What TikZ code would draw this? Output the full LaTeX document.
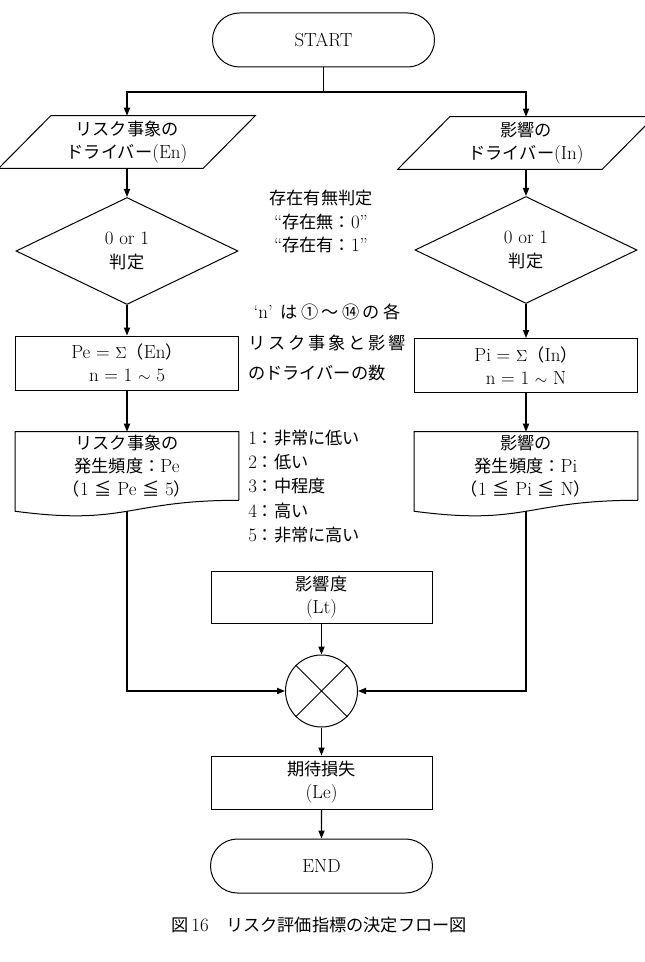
\documentclass[tikz,border=0pt]{standalone}
\usepackage{fontspec}
\setmainfont{Latin Modern Roman}[Scale=1.1]
\newfontfamily\jp{Noto Sans CJK JP}
\usetikzlibrary{shapes.geometric,shapes.misc,arrows.meta,calc}
\newcommand\J[1]{{\jp #1}}
\newcommand\fsz{\fontsize{12.9pt}{17.3pt}\selectfont}
\begin{document}
\begin{tikzpicture}[x=0.75pt,y=-0.75pt,
  every node/.style={font=\fsz, inner sep=0pt, align=center},
  shp/.style={draw, line width=0.75pt},
  term/.style={shp, rounded rectangle, minimum width=166.5pt, minimum height=40.5pt},
  proc/.style={shp, rectangle, minimum width=167pt, minimum height=40.5pt},
  decn/.style={shp, diamond, minimum width=166.5pt, minimum height=80.25pt},
  iobox/.style={rectangle, minimum width=153pt, minimum height=39pt},
  docbox/.style={rectangle, minimum width=167.25pt, minimum height=51pt},
  conn/.style={line width=1pt},
  arr/.style={conn, -{Triangle[length=6pt,width=4.6pt]}},
]
\useasboundingbox (0,0) rectangle (644,962);

% nodes
\node[term] (start) at (323.5,40) {START};
\coordinate (split) at (323.5,92);

\node[iobox] (drvE) at (127,142) {\J{リスク事象の}\\\J{ドライバー}(En)};
\node[iobox] (drvI) at (526,143) {\J{影響の}\\\J{ドライバー}(In)};
\foreach \n in {drvE,drvI}
  \draw[shp] ([xshift=19.5pt]\n.north west) -- ([xshift=19.5pt]\n.north east)
     -- ([xshift=-19.5pt]\n.south east) -- ([xshift=-19.5pt]\n.south west) -- cycle;

\node[decn] (decE) at (127,251) {0 or 1\\\J{判定}};
\node[decn] (decI) at (526,250) {0 or 1\\\J{判定}};

\node[proc] (sumE) at (127,363) {Pe = $\Sigma$\J{（}En\J{）}\\n = 1 $\sim$ 5};
\node[proc] (sumI) at (526,365.5) {Pi = $\Sigma$\J{（}In\J{）}\\n = 1 $\sim$ N};

\node[docbox] (docE) at (127,466) {\J{リスク事象の}\\\J{発生頻度：}Pe\\\J{（}1 \J{≦} Pe \J{≦} 5\J{）}};
\node[docbox] (docI) at (526,466) {\J{影響の}\\\J{発生頻度：}Pi\\\J{（}1 \J{≦} Pi \J{≦} N\J{）}};
\foreach \n in {docE,docI}
  \draw[shp] (\n.south east) -- (\n.north east) -- (\n.north west)
     -- ($(\n.south west)+(0,11)$) .. controls ($(\n.south)+(0,25.7)$) and (\n.south) .. (\n.south east);
\coordinate (dEb) at ($(docE.south)+(0,11)$);
\coordinate (dIb) at ($(docI.south)+(0,11)$);

% annotations
\node[font=\fontsize{12.9pt}{17.6pt}\selectfont] (ann1) at (321,221.5)
  {\J{存在有無判定}\\“\J{存在無：}0”\\“\J{存在有：}1”};
\node[anchor=west, align=left, font=\fontsize{12.9pt}{22.9pt}\selectfont] (ann2) at (248,342.5)
  {\hspace{4pt}‘n’\hspace{6pt}\J{は}\hspace{2.5pt}\J{①}\hspace{2.5pt}\J{～}\hspace{2.5pt}\J{⑭}\hspace{2.5pt}\J{の}\hspace{2.5pt}\J{各}\\
   \makebox[117.75pt][s]{\J{リ}\hfill\J{ス}\hfill\J{ク}\hfill\J{事}\hfill\J{象}\hfill\J{と}\hfill\J{影}\hfill\J{響}}\\
   \J{のドライバーの数}};
\node[anchor=west, align=left, font=\fontsize{12.9pt}{18.2pt}\selectfont] (ann3) at (248,486.5)
  {1\J{：非常に低い}\\2\J{：低い}\\3\J{：中程度}\\4\J{：高い}\\5\J{：非常に高い}};

\node[proc, minimum width=165.75pt, minimum height=39pt] (lt) at (321.5,597) {\J{影響度}\\(Lt)};
\node[shp, circle, minimum size=54pt] (mul) at (321.5,691) {};
\draw[shp] (mul.north west) -- (mul.south east) (mul.north east) -- (mul.south west);
\node[proc, minimum width=165.75pt, minimum height=39.75pt] (le) at (321.5,782.5) {\J{期待損失}\\(Le)};
\node[term] (end) at (321.5,866) {END};

\node (cap) at (319,925) {\J{図}\,16\J{　リスク評価指標の決定フロー図}};

% connectors
\draw[conn] (start) -- (split);
\draw[arr] (split) -| (drvE);
\draw[arr] (split) -| (drvI);
\draw[arr] (drvE) -- (decE);
\draw[arr] (drvI) -- (decI);
\draw[arr] (decE) -- (sumE);
\draw[arr] (decI) -- (sumI);
\draw[arr] (sumE) -- (docE);
\draw[arr] (sumI) -- (docI);
\draw[arr] (dEb) |- (mul);
\draw[arr] (dIb) |- (mul);
\draw[arr] (lt) -- (mul);
\draw[arr] (mul) -- (le);
\draw[arr] (le) -- (end);
\end{tikzpicture}
\end{document}
